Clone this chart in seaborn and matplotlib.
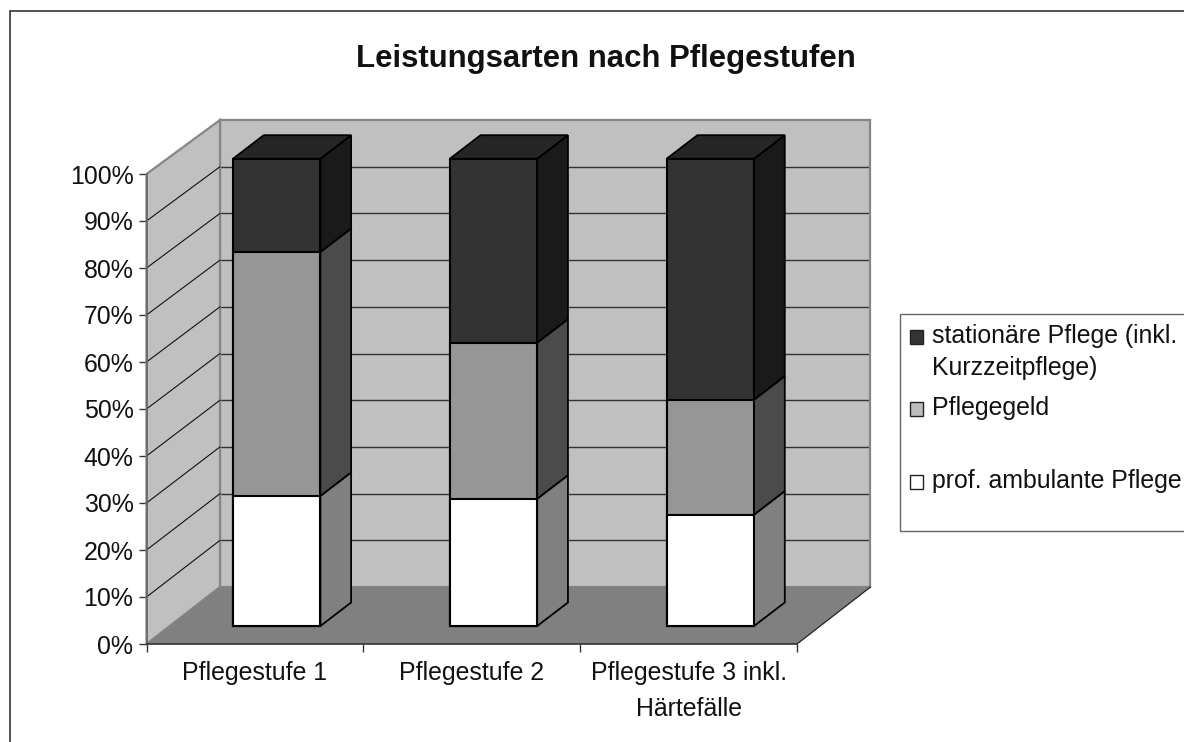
import pandas as pd
import matplotlib.pyplot as plt
import seaborn as sns
from matplotlib.patches import Rectangle

# DATA
stufen = ["Pflegestufe 1", "Pflegestufe 2", "Pflegestufe 3 inkl.\nHärtefälle"]
ambulant = [27.8, 27.2, 23.8]
pflegegeld = [52.2, 33.4, 24.6]
stationaer = [20.0, 39.4, 51.6]
y_ticks = [0, 10, 20, 30, 40, 50, 60, 70, 80, 90, 100]

W, H = 1184, 742
FONT = "Liberation Sans"
TEXT_SIZE = 17.9

sns.set_theme(style="white")
plt.rcParams["font.family"] = [FONT, "DejaVu Sans"]


def axes_px(fig, left, top, right, bottom):
    return fig.add_axes([left / W, 1 - bottom / H, (right - left) / W, (bottom - top) / H])


def fx(x):
    return x / W


def fy(y):
    return 1 - y / H


fig = plt.figure(figsize=(W / 100, H / 100), dpi=100, facecolor="white")

# outer frame runs past the image on the right and bottom
fig.add_artist(Rectangle((fx(9.5), fy(800)), fx(1300), fy(10.5) - fy(800), transform=fig.transFigure,
                         fill=False, edgecolor="#333333", linewidth=1.2))

# back wall
ax_back = axes_px(fig, 220, 120, 870.5, 587)
ax_back.set_facecolor("#c0c0c0")
ax_back.set_xlim(0, 1)
ax_back.set_ylim(0, 100)
ax_back.set_xticks([])
ax_back.set_yticks(y_ticks[1:-1])
ax_back.tick_params(left=False, labelleft=False)
ax_back.grid(axis="y", color="#333333", linewidth=1.0)
for s in ax_back.spines.values():
    s.set_color("#868686")
    s.set_linewidth(1.6)

# front plane: side wall, floor, ticks
ax = axes_px(fig, 146.5, 174, 797, 644)
ax.patch.set_alpha(0)
ax.set_xlim(-0.5, 2.5)
ax.set_ylim(0, 100)
DX = 73.5 / (650.5 / 3)


def back_y(v):
    # the back wall is drawn a bit smaller than the front plane
    return v * 467 / 470 + 57 / 4.7


x0, x1 = -0.5, 2.5
ax.fill([x0, x0 + DX, x0 + DX, x0], [0, back_y(0), back_y(100), 100], facecolor="#c0c0c0",
        edgecolor="#868686", linewidth=1.6, clip_on=False, zorder=1)
ax.fill([x0, x1, x1 + DX, x0 + DX], [0, 0, back_y(0), back_y(0)], facecolor="#808080",
        edgecolor="none", clip_on=False, zorder=2)
ax.plot([x1, x1 + DX], [0, back_y(0)], color="#222222", linewidth=0.9, clip_on=False, zorder=3)
for v in y_ticks[1:-1]:
    ax.plot([x0, x0 + DX], [v, back_y(v)], color="#111111", linewidth=0.8, clip_on=False, zorder=3)

ax.set_yticks(y_ticks)
ax.set_yticklabels([f"{v}%" for v in y_ticks], fontsize=TEXT_SIZE, color="#111111", va="center_baseline")
ax.set_xticks([-0.5, 0.5, 1.5, 2.5])
ax.set_xticklabels([])
ax.set_xticks([0, 1, 2], minor=True)
ax.set_xticklabels(stufen, minor=True, fontsize=TEXT_SIZE, color="#111111", linespacing=1.64)
ax.tick_params(axis="both", which="major", length=5.8, width=1.0, color="#333333", pad=3.6,
               left=True, bottom=True)
ax.tick_params(axis="x", which="minor", length=0, pad=12.3, bottom=True)
for name, s in ax.spines.items():
    s.set_visible(name in ("left", "bottom"))
    s.set_color("#333333")
    s.set_linewidth(1.2)
    s.set_zorder(4)
ax.spines["left"].set_color("#666666")

# bars, drawn cumulative from the tallest down
ax_bar = axes_px(fig, 168.3, 158.7, 818.8, 626)
ax_bar.patch.set_alpha(0)

df = pd.DataFrame({"stufe": stufen, "ambulant": ambulant, "pflegegeld": pflegegeld, "stationaer": stationaer})
df["c1"] = df["ambulant"]
df["c2"] = df["c1"] + df["pflegegeld"]
df["c3"] = df["c2"] + df["stationaer"]

BAR_W = 0.403
bar_dx = 30.7 / (650.5 / 3)
bar_dy = 23.5 / 4.673
layers = [("c3", "c2", "#333333", "#1a1a1a"), ("c2", "c1", "#969696", "#4b4b4b"), ("c1", None, "#ffffff", "#808080")]

for col, low, front, side in layers:
    sns.barplot(data=df, x="stufe", y=col, ax=ax_bar, color=front, saturation=1, width=BAR_W,
                edgecolor="black", linewidth=1.5, errorbar=None, clip_on=False, zorder=3)

for i in range(len(df)):
    xr = i + BAR_W / 2
    xl = i - BAR_W / 2
    for col, low, front, side in layers:
        hi = df[col].iloc[i]
        lo = df[low].iloc[i] if low else 0
        ax_bar.fill([xr, xr + bar_dx, xr + bar_dx, xr], [lo, lo + bar_dy, hi + bar_dy, hi], facecolor=side,
                    edgecolor="black", linewidth=1.3, clip_on=False, zorder=4)
    top = df["c3"].iloc[i]
    ax_bar.fill([xl, xr, xr + bar_dx, xl + bar_dx], [top, top, top + bar_dy, top + bar_dy], facecolor="#262626",
                edgecolor="black", linewidth=1.3, clip_on=False, zorder=4)

ax_bar.set_xlim(-0.5, 2.5)
ax_bar.set_ylim(0, 100)
ax_bar.axis("off")

fig.text(fx(605.5), fy(67), "Leistungsarten nach Pflegestufen", ha="center", va="baseline",
         fontsize=22.4, fontweight="bold", color="#111111")

# legend box, cut off by the image edge like in the original
fig.add_artist(Rectangle((fx(900), fy(530.5)), fx(400), fy(314.5) - fy(530.5), transform=fig.transFigure,
                         facecolor="white", edgecolor="#666666", linewidth=1.0))
legend_rows = [
    ("stationäre Pflege (inkl.", 342.7, "#333333"),
    ("Kurzzeitpflege)", 375, None),
    ("Pflegegeld", 415, "#bdbdbd"),
    ("prof. ambulante Pflege", 488, "#ffffff"),
]
swatch_y = {"#333333": 337, "#bdbdbd": 409, "#ffffff": 482}
for label, base, color in legend_rows:
    fig.text(fx(932), fy(base), label, ha="left", va="baseline", fontsize=TEXT_SIZE, color="#111111")
    if color:
        yc = swatch_y[color]
        fig.add_artist(Rectangle((fx(909.5), fy(yc + 6.5)), 13.5 / W, 13.5 / H, transform=fig.transFigure,
                                 facecolor=color, edgecolor="#222222", linewidth=1.0))

fig.savefig("out.png", dpi=100)
